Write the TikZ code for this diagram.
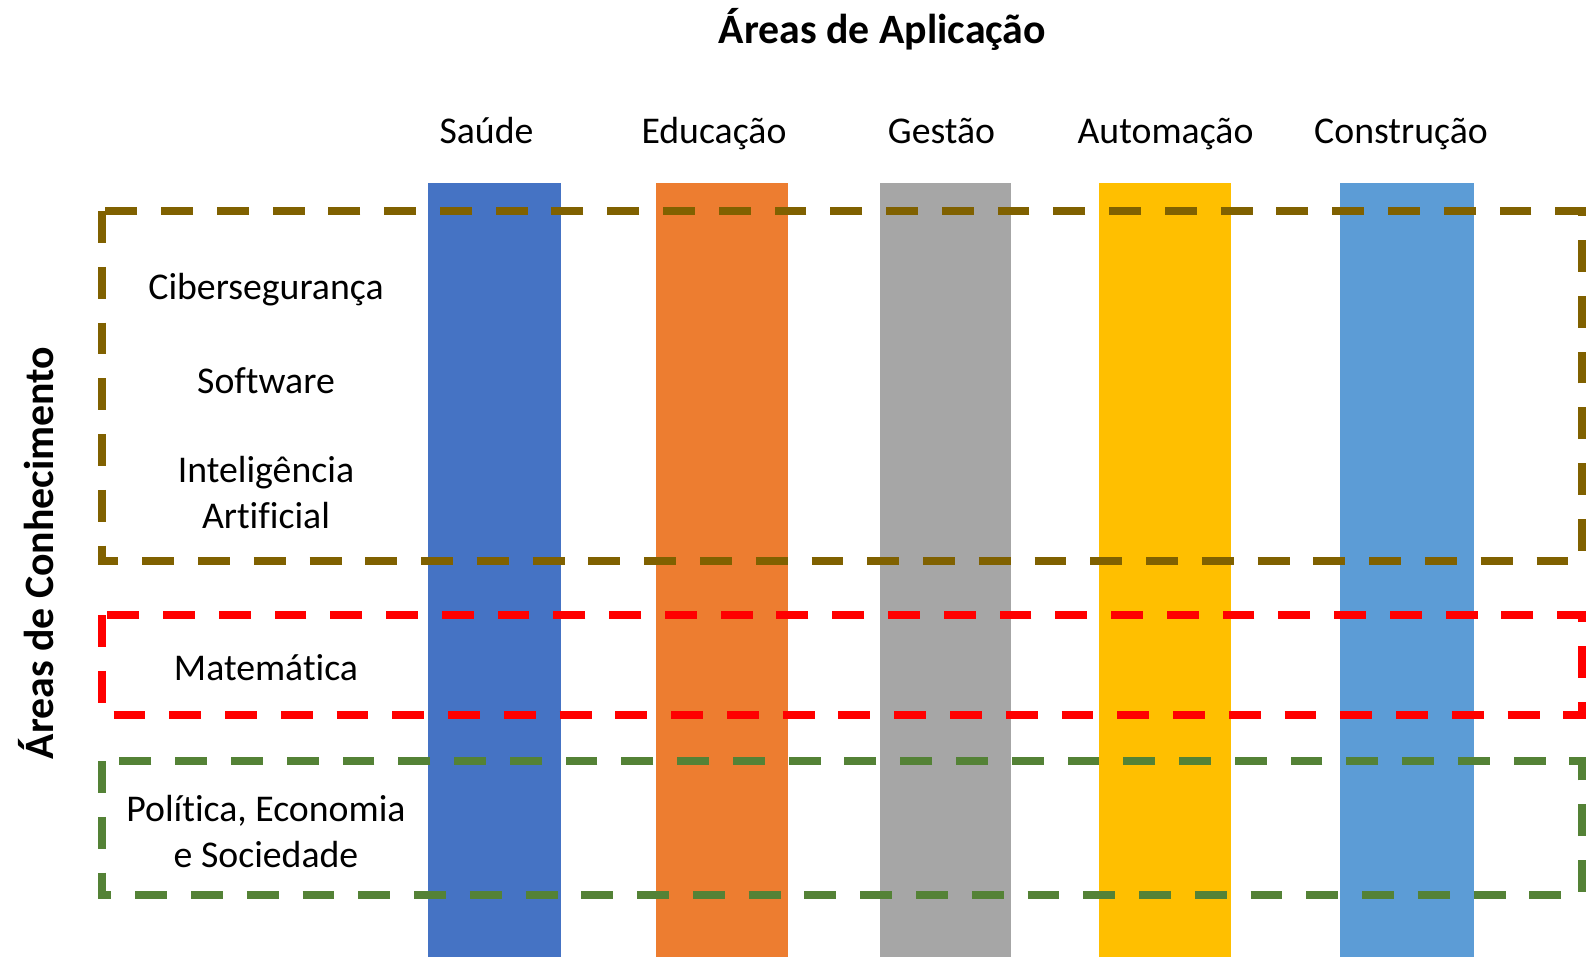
\documentclass[tikz,border=0pt]{standalone}
\usepackage{fontspec}
\setmainfont{Carlito}[Ligatures=NoCommon]
\definecolor{saude}{rgb}{0.27,0.45,0.77}
\definecolor{educ}{rgb}{0.93,0.49,0.19}
\definecolor{gest}{rgb}{0.65,0.65,0.65}
\definecolor{autom}{rgb}{1,0.75,0}
\definecolor{constr}{rgb}{0.36,0.61,0.84}
\definecolor{ttbrown}{rgb}{0.5,0.38,0}
\definecolor{ttred}{rgb}{1,0,0}
\definecolor{ttgreen}{rgb}{0.33,0.51,0.21}

\begin{document}
\begin{tikzpicture}[x=0.02cm, y=-0.02cm,
    areabox/.style={line width=4.54pt, dash pattern=on 18.14pt off 13.6pt},
    txt/.style={font=\fontsize{21.5}{26}\selectfont, anchor=base, align=center, inner sep=0pt},
    head/.style={font=\fontsize{23.8}{28}\selectfont\bfseries, anchor=base, inner sep=0pt}]
    \useasboundingbox (0,0) rectangle (1586,957);
    % columns
    \fill[color=saude] (428,183) rectangle (561,957);
    \fill[color=educ] (656,183) rectangle (788,957);
    \fill[color=gest] (880,183) rectangle (1011,957);
    \fill[color=autom] (1099,183) rectangle (1231,957);
    \fill[color=constr] (1340,183) rectangle (1474,957);
    % dashed boxes
    \draw[areabox, color=ttbrown] (102,211) -- (102,561) -- (1582,561) -- (1582,211) -- cycle;
    \draw[areabox, color=ttred] (102,615) -- (102,715) -- (1582,715) -- (1582,615) -- cycle;
    \draw[areabox, color=ttgreen] (102,761) -- (102,895) -- (1582,895) -- (1582,761) -- cycle;
    % labels
    \node[head] (titulo) at (882.5,43) {Áreas de Aplicação};
    \node[head, rotate=90] (conhec) at (53,553) {Áreas de Conhecimento};
    \node[txt] (sau) at (486.5,143) {Saúde};
    \node[txt] (edu) at (714,143) {Educação};
    \node[txt] (ges) at (941.5,143) {Gestão};
    \node[txt] (aut) at (1165.5,143) {Automação};
    \node[txt] (con) at (1401,143) {Construção};
    \node[txt] (ciber) at (266,299) {Cibersegurança};
    \node[txt] (soft) at (266,393) {Software};
    \node[txt] (ia) at (266,528) {Inteligência\\Artificial};
    \node[txt] (mat) at (266,680) {Matemática};
    \node[txt] (pol) at (266,867) {Política, Economia\\e Sociedade};
\end{tikzpicture}
\end{document}
